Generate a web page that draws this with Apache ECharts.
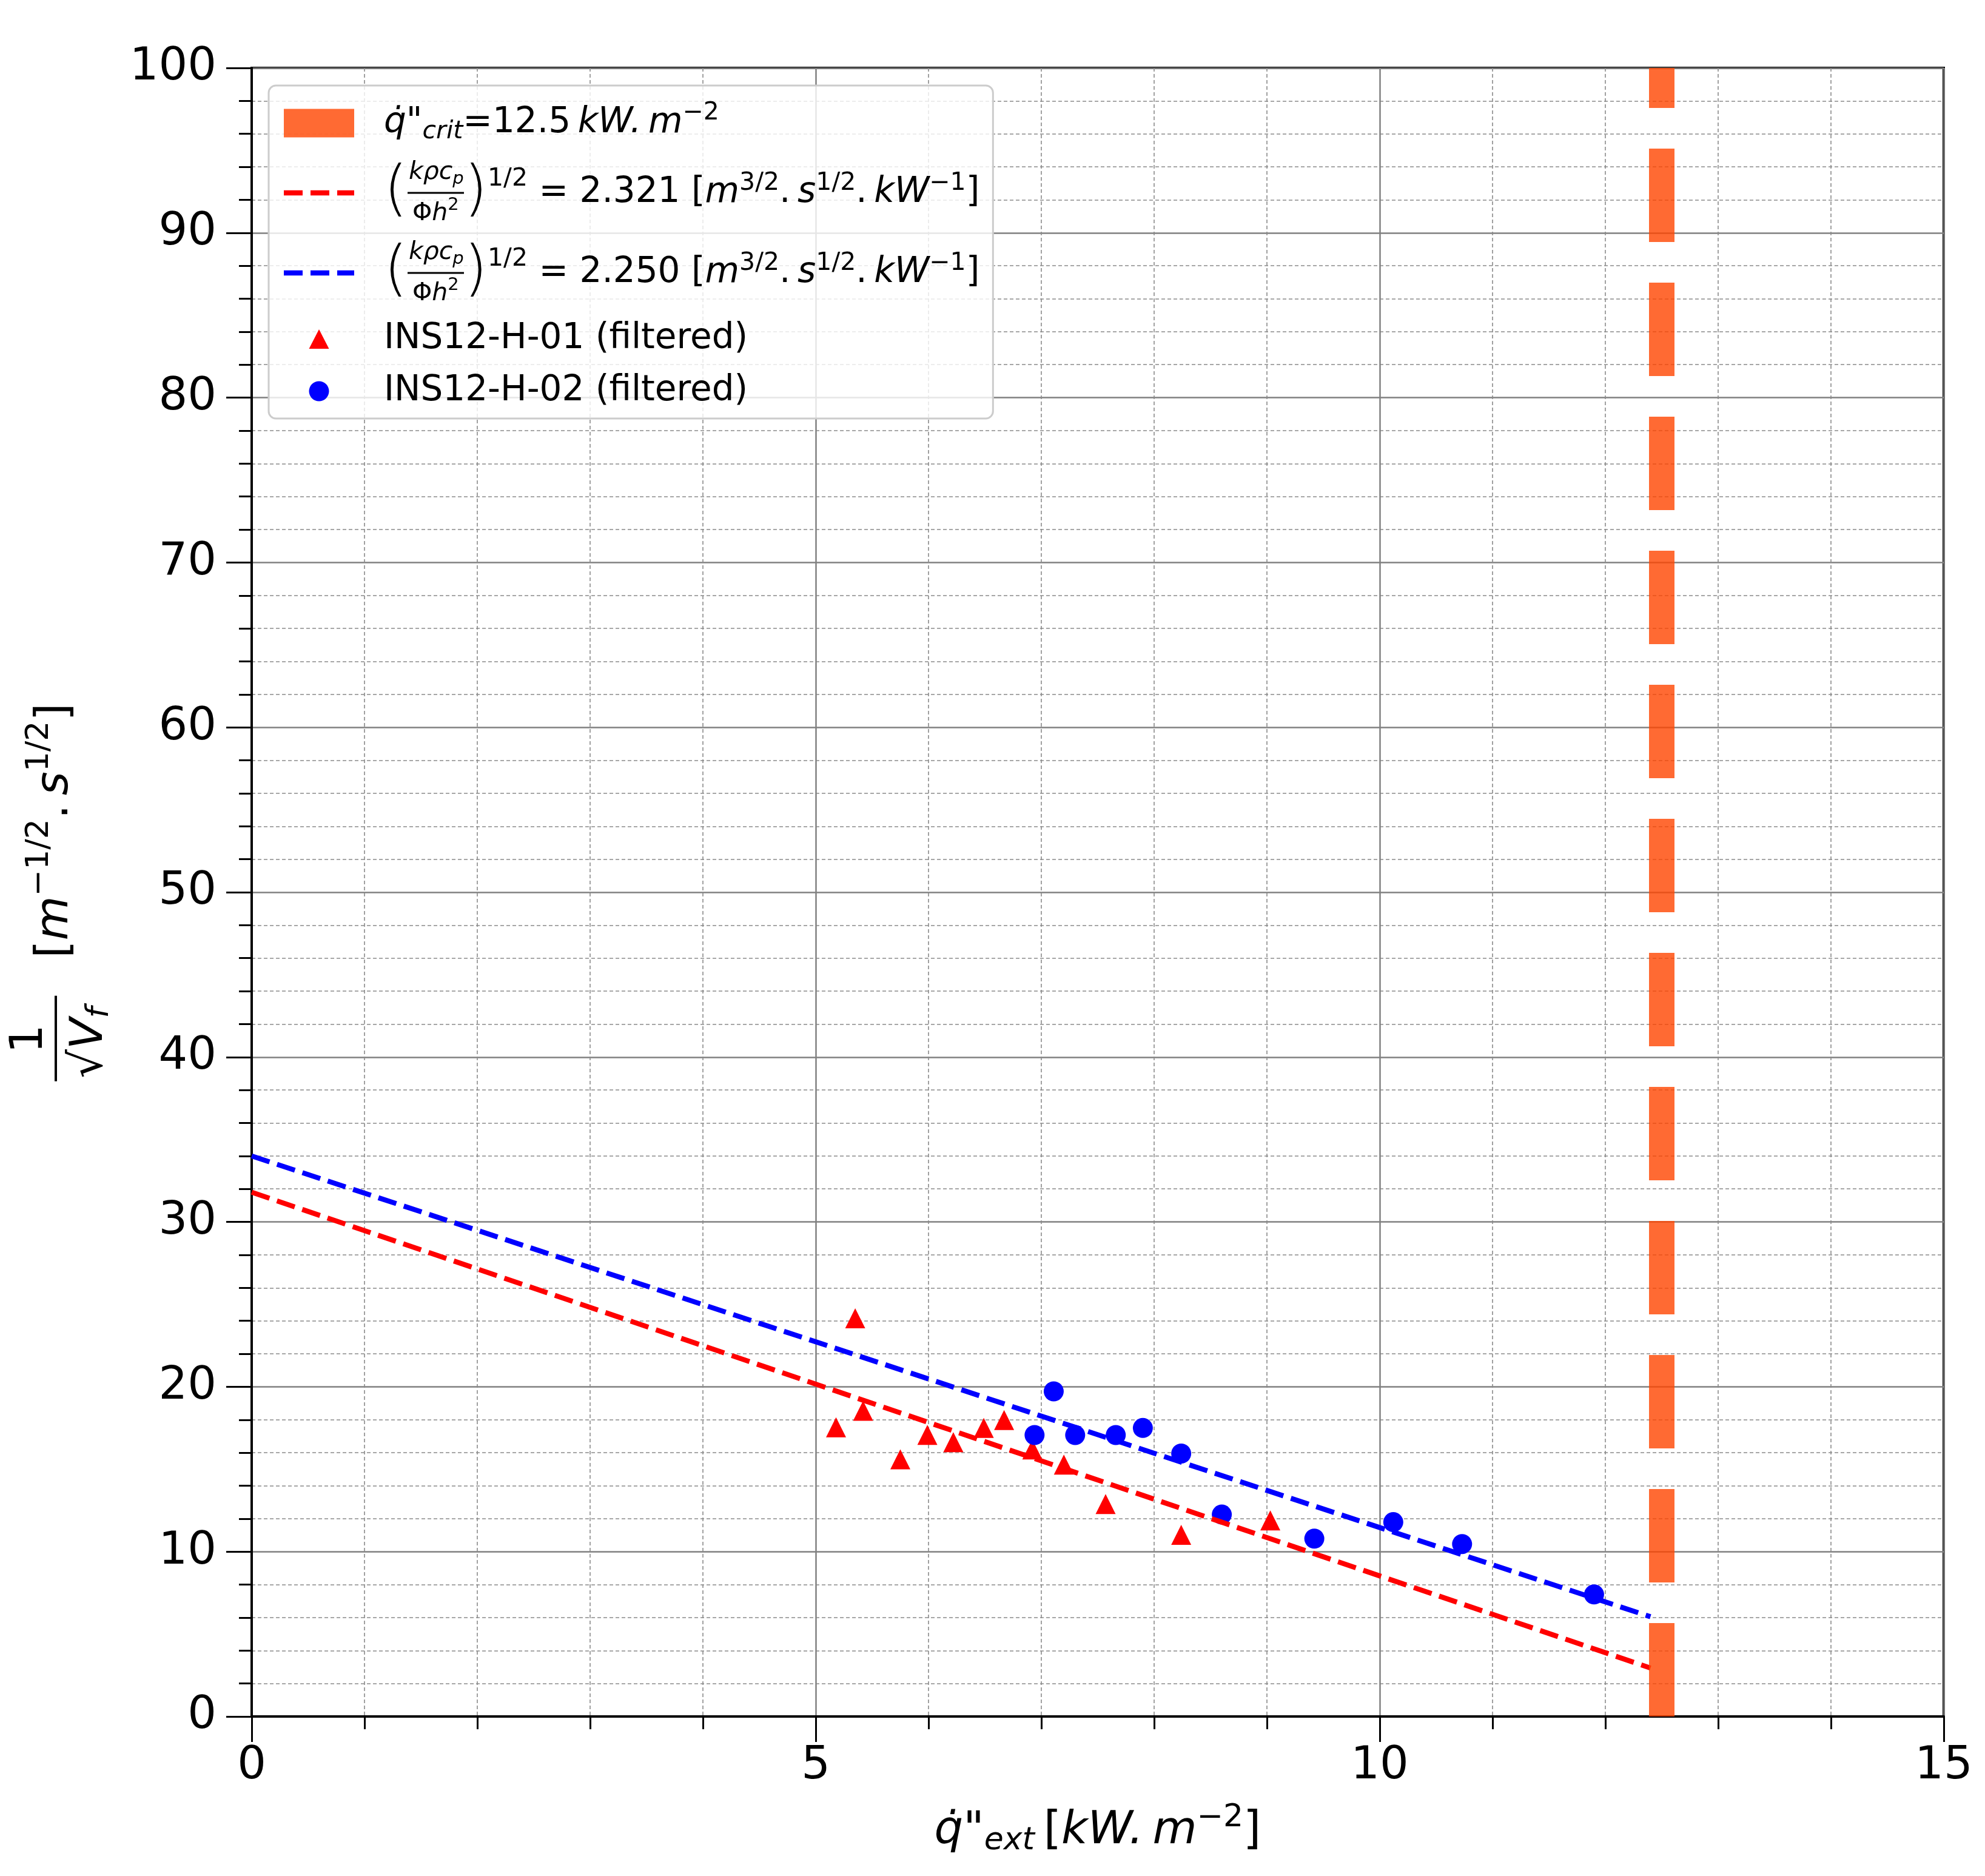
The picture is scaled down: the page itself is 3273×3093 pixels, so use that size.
<!DOCTYPE html>
<html>
<head>
<meta charset="utf-8">
<script src="https://cdn.jsdelivr.net/npm/echarts@6.0.0/dist/echarts.min.js"></script>
<style>
  html, body { margin: 0; padding: 0; background: #fff; }
  #chart { width: 3273px; height: 3093px; }
</style>
</head>
<body>
<div id="chart"></div>
<script>
// measured points, INS12-H-01 (triangles)
const h01X = [5.18, 5.35, 5.42, 5.75, 5.99, 6.22, 6.49, 6.67, 6.92, 7.20, 7.57, 8.24, 9.03];
const h01Y = [17.54, 24.15, 18.54, 15.60, 17.08, 16.64, 17.50, 17.98, 16.20, 15.28, 12.89, 11.02, 11.89];
// INS12-H-02 (circles)
const h02X = [6.94, 7.11, 7.30, 7.66, 7.90, 8.24, 8.60, 9.42, 10.12, 10.73, 11.90];
const h02Y = [17.07, 19.72, 17.07, 17.07, 17.50, 15.95, 12.25, 10.79, 11.79, 10.46, 7.40];
// fitted lines (end points)
const fitRedX = [0, 12.4];
const fitRedY = [31.8, 2.94];
const fitBlueX = [0, 12.4];
const fitBlueY = [34.0, 6.05];
// critical heat flux
const critX = [12.5, 12.5];
const critY = [0, 100];

const F = 'DejaVu Sans';
const zip = (xs, ys) => xs.map((x, i) => [x, ys[i]]);

// the sp* tokens give the gap after the icon; their font size sets each row's height
const legendLabels = {
  'crit': '{sp1| }{ait|q\u0307}{at|"}{asub|crit}{at|=12.5\u2009}{ait|kW.\u2009m}{asup|\u22122}',
  'fitRed': '{fnum|k\u03c1c}{fnsub|p}\n{spm| }{par|(}{bar| }{par|)}{fsup|1/2}{lt| = 2.321 [}{lit|m}{lsup|3/2}{lt|.\u2009}{lit|s}{lsup|1/2}{lt|.\u2009}{lit|kW}{lsup|\u22121}{lt|]}\n{fden|\u03a6}{fdenit|h}{fdsup|2}',
  'fitBlue': '{fnum|k\u03c1c}{fnsub|p}\n{spm| }{par|(}{bar| }{par|)}{fsup|1/2}{lt| = 2.250 [}{lit|m}{lsup|3/2}{lt|.\u2009}{lit|s}{lsup|1/2}{lt|.\u2009}{lit|kW}{lsup|\u22121}{lt|]}\n{fden|\u03a6}{fdenit|h}{fdsup|2}',
  'INS12-H-01 (filtered)': '{sp4| }{bt|INS12-H-01 (filtered)}',
  'INS12-H-02 (filtered)': '{sp4| }{bt|INS12-H-02 (filtered)}'
};

const legendRich = {
  sp1: { width: 44, lineHeight: 10, fontSize: 98, fontFamily: F },
  sp4: { width: 44, lineHeight: 10, fontSize: 86, fontFamily: F },
  spm: { width: 44, lineHeight: 10, fontSize: 132, fontFamily: F },
  at: { fontFamily: F, fontSize: 58, lineHeight: 80, color: '#000' },
  ait: { fontFamily: F, fontSize: 58, fontStyle: 'italic', lineHeight: 80, color: '#000' },
  asub: { fontFamily: F, fontSize: 41, fontStyle: 'italic', lineHeight: 80, padding: [28, 0, 0, 0], color: '#000' },
  asup: { fontFamily: F, fontSize: 41, lineHeight: 80, padding: [0, 0, 34, 0], color: '#000' },
  fnum: { fontFamily: F, fontSize: 41, fontStyle: 'italic', lineHeight: 32, align: 'left', color: '#000' },
  fnsub: { fontFamily: F, fontSize: 29, fontStyle: 'italic', lineHeight: 32, height: 10, verticalAlign: 'bottom', color: '#000' },
  par: { fontFamily: F, fontSize: 100, fontWeight: 200, lineHeight: 36, color: '#000' },
  bar: { width: 93, height: 3, backgroundColor: '#000', lineHeight: 36 },
  fsup: { fontFamily: F, fontSize: 41, lineHeight: 36, padding: [0, 0, 46, 0], color: '#000' },
  lt: { fontFamily: F, fontSize: 58, lineHeight: 36, color: '#000' },
  lit: { fontFamily: F, fontSize: 58, fontStyle: 'italic', lineHeight: 36, color: '#000' },
  lsup: { fontFamily: F, fontSize: 41, lineHeight: 36, padding: [0, 0, 32, 0], color: '#000' },
  fden: { fontFamily: F, fontSize: 41, lineHeight: 32, color: '#000' },
  fdenit: { fontFamily: F, fontSize: 41, fontStyle: 'italic', lineHeight: 32, color: '#000' },
  fdsup: { fontFamily: F, fontSize: 29, lineHeight: 32, height: 4, verticalAlign: 'top', color: '#000' },
  bt: { fontFamily: F, fontSize: 58, lineHeight: 70, color: '#000' },
  // left offsets that put numerator and denominator over the fraction bar
  fpadn: { width: 85, lineHeight: 32, fontSize: 10 },
  fpadd: { width: 91, lineHeight: 32, fontSize: 10 }
};
// prefix numerator / denominator lines with their offsets
for (const k of ['fitRed', 'fitBlue']) {
  const parts = legendLabels[k].split('\n');
  legendLabels[k] = '{fpadn| }' + parts[0] + '\n' + parts[1] + '\n{fpadd| }' + parts[2];
}

const yName = '{ynum|1}\n{ybar| }{ygap| }{yt|[}{yit|m}{ysup|\u22121/2}{yt|.\u2009}{yit|s}{ysup|1/2}{yt|]}\n{yden|\u221a}{ydenit|V}{ysub|f}';
const yRich = {
  ynum: { fontFamily: F, fontSize: 75, lineHeight: 72, align: 'left', padding: [0, 0, 0, 46], color: '#000' },
  ybar: { width: 141, height: 4, backgroundColor: '#000', lineHeight: 12, align: 'left' },
  ygap: { width: 62, lineHeight: 12, align: 'left' },
  yt: { fontFamily: F, fontSize: 75, lineHeight: 12, align: 'left', color: '#000' },
  yit: { fontFamily: F, fontSize: 75, fontStyle: 'italic', lineHeight: 12, align: 'left', color: '#000' },
  ysup: { fontFamily: F, fontSize: 52, lineHeight: 12, align: 'left', padding: [0, 0, 54, 0], color: '#000' },
  yden: { fontFamily: F, fontSize: 75, lineHeight: 102, align: 'left', padding: [0, 0, 0, 5], color: '#000' },
  ydenit: { fontFamily: F, fontSize: 75, fontStyle: 'italic', lineHeight: 102, align: 'left', color: '#000' },
  ysub: { fontFamily: F, fontSize: 52, fontStyle: 'italic', lineHeight: 102, align: 'left', padding: [30, 0, 0, 0], color: '#000' }
};

const xName = '{xit|q\u0307}{xt|"}{xsub|ext}{xt|\u2009[}{xit|kW.\u2009m}{xsup|\u22122}{xt|]}';
const xRich = {
  xt: { fontFamily: F, fontSize: 75, lineHeight: 80, color: '#000' },
  xit: { fontFamily: F, fontSize: 75, fontStyle: 'italic', lineHeight: 80, color: '#000' },
  xsub: { fontFamily: F, fontSize: 52, fontStyle: 'italic', lineHeight: 80, padding: [30, 0, 0, 0], color: '#000' },
  xsup: { fontFamily: F, fontSize: 52, lineHeight: 80, padding: [0, 0, 46, 0], color: '#000' }
};

// legend icons drawn in a 116 x 47 box (corner points keep the box size)
const box = 'M0,0L0,0ZM116,47L116,47Z';
const triIcon = 'path://' + box + 'M58,7.5L74.5,39.5L41.5,39.5Z';
const dotIcon = 'path://' + box + 'M74.5,23.5A16.5,16.5,0,1,1,41.5,23.5A16.5,16.5,0,1,1,74.5,23.5Z';
const dashIcon = 'path://' + box +
  'M0,19.35L31,19.35L31,27.65L0,27.65Z' +
  'M44,19.35L75,19.35L75,27.65L44,27.65Z' +
  'M88,19.35L116,19.35L116,27.65L88,27.65Z';

const tickStyle = { color: '#000', width: 3 };

const myChart = echarts.init(document.getElementById('chart'), null, { renderer: 'canvas' });
const option = {
  animation: false,
  backgroundColor: '#fff',
  grid: {
    left: 415, right: 68, top: 112, bottom: 263,
    containLabel: false, outerBoundsMode: 'none',
    show: true, borderColor: '#000', borderWidth: 4, backgroundColor: 'transparent'
  },
  xAxis: {
    type: 'value', min: 0, max: 15, interval: 5,
    name: xName, nameLocation: 'middle', nameGap: 150, nameMoveOverlap: false,
    nameTextStyle: { fontFamily: F, fontSize: 75, color: '#000', rich: xRich },
    axisLine: { show: true, onZero: false, lineStyle: { color: '#000', width: 4 } },
    axisTick: { show: true, inside: false, length: 42, lineStyle: tickStyle },
    minorTick: { show: true, splitNumber: 5, length: 21, lineStyle: tickStyle },
    axisLabel: { fontFamily: F, fontSize: 75, color: '#000', margin: 45, showMinLabel: true, showMaxLabel: true },
    splitLine: { show: true, lineStyle: { color: '#808080', width: 2.5 } },
    minorSplitLine: { show: true, lineStyle: { color: '#8a8a8a', width: 1.6, type: [6, 4] } }
  },
  yAxis: {
    type: 'value', min: 0, max: 100, interval: 10,
    name: yName, nameLocation: 'middle', nameRotate: 90, nameGap: 215, nameMoveOverlap: false,
    nameTextStyle: { fontFamily: F, fontSize: 75, color: '#000', rich: yRich },
    axisLine: { show: true, onZero: false, lineStyle: { color: '#000', width: 4 } },
    axisTick: { show: true, inside: false, length: 42, lineStyle: tickStyle },
    minorTick: { show: true, splitNumber: 5, length: 21, lineStyle: tickStyle },
    axisLabel: { fontFamily: F, fontSize: 75, color: '#000', margin: 58, showMinLabel: true, showMaxLabel: true },
    splitLine: { show: true, lineStyle: { color: '#808080', width: 2.5 } },
    minorSplitLine: { show: true, lineStyle: { color: '#8a8a8a', width: 1.6, type: [6, 4] } }
  },
  legend: {
    orient: 'vertical', left: 443, top: 141,
    padding: [13, 22, 2, 25],
    itemWidth: 116, itemHeight: 47, itemGap: 0,
    backgroundColor: 'rgba(255,255,255,0.8)',
    borderColor: '#cccccc', borderWidth: 3, borderRadius: 12,
    selectedMode: false,
    textStyle: { fontFamily: F, fontSize: 58, color: '#000', rich: legendRich },
    formatter: name => legendLabels[name],
    data: [
      { name: 'crit', icon: 'rect', itemStyle: { color: 'orangered', opacity: 0.8, borderWidth: 0 } },
      { name: 'fitRed', icon: dashIcon, itemStyle: { color: '#ff0000', borderWidth: 0 } },
      { name: 'fitBlue', icon: dashIcon, itemStyle: { color: '#0000ff', borderWidth: 0 } },
      { name: 'INS12-H-01 (filtered)', icon: triIcon, itemStyle: { color: '#ff0000', borderWidth: 0 } },
      { name: 'INS12-H-02 (filtered)', icon: dotIcon, itemStyle: { color: '#0000ff', borderWidth: 0 } }
    ]
  },
  series: [
    {
      name: 'fitRed', type: 'line', data: zip(fitRedX, fitRedY),
      symbol: 'none', showSymbol: false, silent: true, color: '#ff0000',
      lineStyle: { color: '#ff0000', width: 8.3, type: [31, 13] }
    },
    {
      name: 'fitBlue', type: 'line', data: zip(fitBlueX, fitBlueY),
      symbol: 'none', showSymbol: false, silent: true, color: '#0000ff',
      lineStyle: { color: '#0000ff', width: 8.3, type: [31, 13] }
    },
    {
      name: 'INS12-H-01 (filtered)', type: 'scatter', data: zip(h01X, h01Y),
      symbol: 'triangle', symbolSize: 33, silent: true,
      itemStyle: { color: '#ff0000', opacity: 1 }
    },
    {
      name: 'INS12-H-02 (filtered)', type: 'scatter', data: zip(h02X, h02Y),
      symbol: 'circle', symbolSize: 33, silent: true,
      itemStyle: { color: '#0000ff', opacity: 1 }
    },
    {
      name: 'crit', type: 'line', data: zip(critX, critY),
      symbol: 'none', showSymbol: false, silent: true, color: 'orangered',
      lineStyle: { color: 'orangered', width: 42, opacity: 0.8, type: [154, 67], cap: 'butt' }
    }
  ]
};
myChart.setOption(option);
</script>
</body>
</html>
